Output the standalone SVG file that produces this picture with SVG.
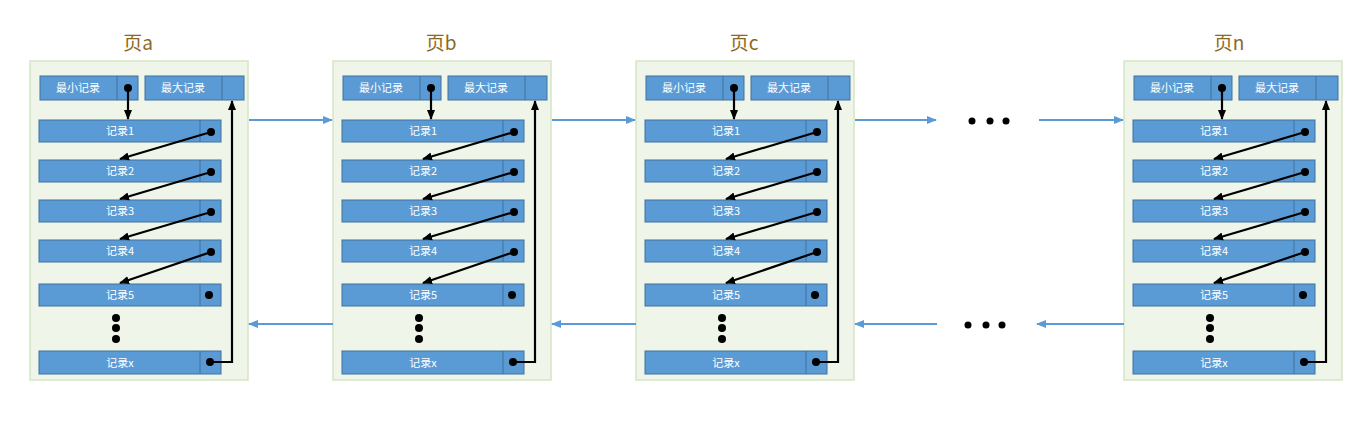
<svg xmlns="http://www.w3.org/2000/svg" width="1365" height="425" viewBox="0 0 1365 425">
<style>
.page{fill:#eff5e9;stroke:#d5e5c4;stroke-width:1.5}
.title{font-family:"Noto Sans CJK SC","Liberation Sans",sans-serif;font-size:19px;fill:#8a6a1f;text-anchor:middle}
.box{fill:#5b9bd5;stroke:#41719c;stroke-width:1}
.div{stroke:#41719c;stroke-width:1}
.lbl{font-family:"Noto Sans CJK SC","Liberation Sans",sans-serif;font-size:11px;fill:#ffffff;text-anchor:middle}
.ptr{fill:none;stroke:#000;stroke-width:2.2}
.dot{fill:#000}
.link{fill:none;stroke:#5b9bd5;stroke-width:2}
</style>
<defs>
<marker id="ah" markerUnits="userSpaceOnUse" markerWidth="10" markerHeight="10" viewBox="0 0 10 10" refX="9" refY="5" orient="auto">
<path d="M0,1 L10,5 L0,9 Z" fill="#000"/>
</marker>
<marker id="bh" markerUnits="userSpaceOnUse" markerWidth="10" markerHeight="10" viewBox="0 0 10 10" refX="9" refY="5" orient="auto">
<path d="M0,1 L10,5 L0,9 Z" fill="#5b9bd5"/>
</marker>
<g id="pageBody">
<rect class="page" x="30" y="61" width="218" height="319"/>
<rect class="box" x="40" y="76" width="98" height="24"/><line class="div" x1="117" y1="76" x2="117" y2="100"/>
<text class="lbl" x="78" y="92">最小记录</text>
<rect class="box" x="145" y="76" width="99" height="24"/><line class="div" x1="222" y1="76" x2="222" y2="100"/>
<text class="lbl" x="183" y="92">最大记录</text>
<rect class="box" x="39" y="120" width="182" height="22"/><line class="div" x1="200" y1="120" x2="200" y2="142"/>
<text class="lbl" x="120" y="135">记录1</text>
<rect class="box" x="39" y="160" width="182" height="22"/><line class="div" x1="200" y1="160" x2="200" y2="182"/>
<text class="lbl" x="120" y="175">记录2</text>
<rect class="box" x="39" y="200" width="182" height="22"/><line class="div" x1="200" y1="200" x2="200" y2="222"/>
<text class="lbl" x="120" y="215">记录3</text>
<rect class="box" x="39" y="240" width="182" height="22"/><line class="div" x1="200" y1="240" x2="200" y2="262"/>
<text class="lbl" x="120" y="255">记录4</text>
<rect class="box" x="39" y="284" width="182" height="22"/><line class="div" x1="200" y1="284" x2="200" y2="306"/>
<text class="lbl" x="120" y="299">记录5</text>
<circle class="dot" cx="116" cy="318" r="4"/><circle class="dot" cx="116" cy="328" r="4"/><circle class="dot" cx="116" cy="339" r="4"/>
<rect class="box" x="39" y="351" width="182" height="23"/><line class="div" x1="200" y1="351" x2="200" y2="374"/>
<text class="lbl" x="120" y="367">记录x</text>
</g>
<g id="pagePtrs">
<circle class="dot" cx="128" cy="88" r="4"/><line class="ptr" x1="128" y1="88" x2="128" y2="119" marker-end="url(#ah)"/>
<circle class="dot" cx="211" cy="132" r="4"/><line class="ptr" x1="211" y1="132" x2="120" y2="159" marker-end="url(#ah)"/>
<circle class="dot" cx="211" cy="172" r="4"/><line class="ptr" x1="211" y1="172" x2="120" y2="199" marker-end="url(#ah)"/>
<circle class="dot" cx="211" cy="212" r="4"/><line class="ptr" x1="211" y1="212" x2="120" y2="239" marker-end="url(#ah)"/>
<circle class="dot" cx="211" cy="252" r="4"/><line class="ptr" x1="211" y1="252" x2="120" y2="283" marker-end="url(#ah)"/>
<circle class="dot" cx="209" cy="295" r="4"/>
<circle class="dot" cx="210" cy="362" r="4"/><polyline class="ptr" points="210,362 232,362 232,101" marker-end="url(#ah)"/>
</g>
</defs>
<g id="page-a"><use href="#pageBody"/><text class="title" x="138" y="50">页a</text></g>
<g id="page-b" transform="translate(303,0)"><use href="#pageBody"/><text class="title" x="138" y="50">页b</text></g>
<g id="page-c" transform="translate(606,0)"><use href="#pageBody"/><text class="title" x="138" y="50">页c</text></g>
<g id="page-n" transform="translate(1094,0)"><use href="#pageBody"/><text class="title" x="135" y="50">页n</text></g>
<g id="ellipsis-top"><circle class="dot" cx="972" cy="121" r="3.5"/><circle class="dot" cx="990" cy="121" r="3.5"/><circle class="dot" cx="1006" cy="121" r="3.5"/></g>
<g id="ellipsis-bottom"><circle class="dot" cx="968" cy="325" r="3.5"/><circle class="dot" cx="986" cy="325" r="3.5"/><circle class="dot" cx="1002" cy="325" r="3.5"/></g>
<g id="connectors">
<use href="#pagePtrs"/>
<use href="#pagePtrs" transform="translate(303,0)"/>
<use href="#pagePtrs" transform="translate(606,0)"/>
<use href="#pagePtrs" transform="translate(1094,0)"/>
<line class="link" x1="249" y1="120" x2="332" y2="120" marker-end="url(#bh)"/>
<line class="link" x1="333" y1="324" x2="249" y2="324" marker-end="url(#bh)"/>
<line class="link" x1="552" y1="120" x2="635" y2="120" marker-end="url(#bh)"/>
<line class="link" x1="636" y1="324" x2="552" y2="324" marker-end="url(#bh)"/>
<line class="link" x1="855" y1="120" x2="936" y2="120" marker-end="url(#bh)"/>
<line class="link" x1="1039" y1="120" x2="1123" y2="120" marker-end="url(#bh)"/>
<line class="link" x1="1124" y1="324" x2="1037" y2="324" marker-end="url(#bh)"/>
<line class="link" x1="937" y1="324" x2="855" y2="324" marker-end="url(#bh)"/>
</g>
</svg>
